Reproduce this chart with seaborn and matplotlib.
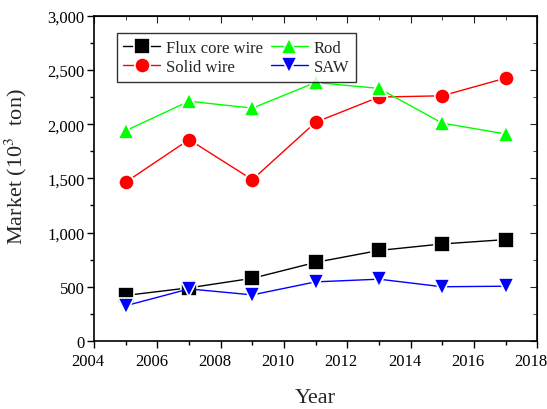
import matplotlib
matplotlib.use("Agg")
import matplotlib.pyplot as plt
import matplotlib.transforms as mtransforms
import seaborn as sns
import pandas as pd
from matplotlib.ticker import FuncFormatter, MultipleLocator
from matplotlib.lines import Line2D

years = [2005, 2007, 2009, 2011, 2013, 2015, 2017]
flux_core_wire = [420, 490, 578, 725, 835, 895, 935]
solid_wire = [1465, 1858, 1488, 2018, 2250, 2262, 2425]
rod = [1940, 2212, 2148, 2385, 2330, 2010, 1910]
saw = [325, 480, 425, 545, 570, 500, 505]

series_names = ["Flux core wire", "Solid wire", "Rod", "SAW"]
series_values = [flux_core_wire, solid_wire, rod, saw]
colors = ["#000000", "#FF0000", "#00FF00", "#0000FF"]
markers = ["s", "o", "^", "v"]

sns.set_style("ticks")
plt.rcParams["font.family"] = "serif"
plt.rcParams["font.serif"] = ["Liberation Serif", "DejaVu Serif"]
plt.rcParams["mathtext.fontset"] = "stix"

rows = []
for name, vals in zip(series_names, series_values):
    for y, v in zip(years, vals):
        rows.append({"Year": y, "Market": v, "Series": name})
df = pd.DataFrame(rows)

fig = plt.figure(figsize=(5.47, 4.10), dpi=100)
ax = fig.add_axes([0.172, 0.166, 0.810, 0.793])

handles = {}
for name, c, m in zip(series_names, colors, markers):
    sub = df[df["Series"] == name]
    sns.lineplot(data=sub, x="Year", y="Market", ax=ax, color=c, marker=m,
                 markersize=11, markeredgecolor="white", markeredgewidth=1.2,
                 linewidth=1.0, legend=False)
    handles[name] = Line2D([], [], color=c, marker=m, markersize=11,
                           markeredgecolor="white", markeredgewidth=1.2, linewidth=1.0)

ax.set_xlim(2004, 2018)
ax.set_ylim(0, 3000)
ax.xaxis.set_major_locator(MultipleLocator(2))
ax.xaxis.set_minor_locator(MultipleLocator(1))
ax.yaxis.set_major_locator(MultipleLocator(500))
ax.yaxis.set_minor_locator(MultipleLocator(250))
ax.yaxis.set_major_formatter(FuncFormatter(lambda v, p: f"{int(v):,}"))

for s in ax.spines.values():
    s.set_visible(True)
    s.set_linewidth(1.2)
    s.set_color("black")

ax.tick_params(which="both", direction="out", top=False, right=False, labelsize=12, colors="black")
ax.tick_params(which="major", length=5, width=1)
ax.tick_params(which="minor", length=3, width=1)
ax.tick_params(axis="y", pad=2)
ax2 = ax.secondary_yaxis("right")
ax2.yaxis.set_major_locator(MultipleLocator(500))
ax2.yaxis.set_minor_locator(MultipleLocator(250))
ax2.tick_params(which="both", direction="in", labelright=False)
ax2.tick_params(which="major", length=5)
ax2.tick_params(which="minor", length=3)
ax3 = ax.secondary_xaxis("top")
ax3.xaxis.set_major_locator(MultipleLocator(2))
ax3.xaxis.set_minor_locator(MultipleLocator(1))
ax3.tick_params(which="both", direction="in", labeltop=False)
ax3.tick_params(which="major", length=5)
ax3.tick_params(which="minor", length=3)

# shift x tick labels slightly left, as in the reference
offset = mtransforms.ScaledTranslation(-6 / 100, 0, fig.dpi_scale_trans)
for lbl in ax.get_xticklabels():
    lbl.set_transform(lbl.get_transform() + offset)

ax.set_xlabel("Year", fontsize=16, labelpad=14)
ax.set_ylabel("Market (10$^{3}$  ton)", fontsize=16)
ax.yaxis.set_label_coords(-0.148, 0.54)

order = ["Flux core wire", "Solid wire", "Rod", "SAW"]
leg = ax.legend([handles[n] for n in order], order, ncol=2, loc="upper left",
                bbox_to_anchor=(0.032, 0.972), fontsize=12, frameon=True,
                fancybox=False, edgecolor="black", handlelength=2.2,
                columnspacing=0.5, handletextpad=0.35, borderpad=0.4,
                labelspacing=0.2)
leg.get_frame().set_linewidth(1.0)

fig.savefig("out.png", dpi=100)
